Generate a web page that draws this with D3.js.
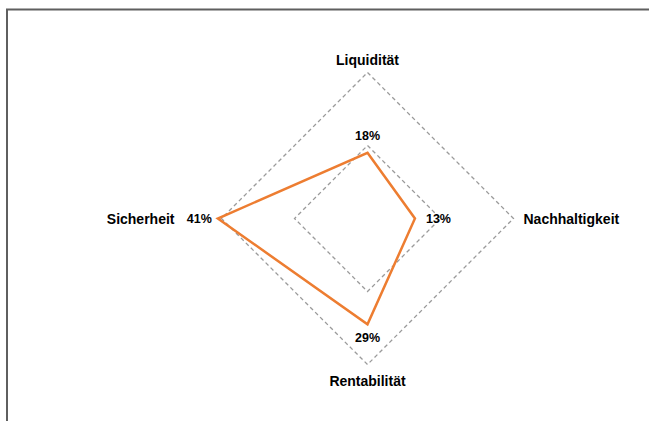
<!DOCTYPE html>
<html><head><meta charset="utf-8">
<script src="https://cdn.jsdelivr.net/npm/d3@7"></script>
<style>
html,body{margin:0;padding:0;background:#fff;}
svg{display:block;}
text{font-family:"Liberation Sans",Arial,sans-serif;font-weight:bold;fill:#000;}
</style></head>
<body>
<script>
const categories = ["Liquidität", "Nachhaltigkeit", "Rentabilität", "Sicherheit"];
const values = [0.18, 0.13, 0.29, 0.41];
const valueLabels = ["18%", "13%", "29%", "41%"];
const gridLevels = [0.2, 0.4];

const W = 649, H = 421;
const cx = 367.5, cy = 218.5, R = 146;

const svg = d3.select("body").append("svg").attr("width", W).attr("height", H);

// frame (left and top)
svg.append("path").attr("d", `M7,${H} V9.5 H${W}`)
  .attr("fill", "none").attr("stroke", "#5f5f5f").attr("stroke-width", 2);

const r = d3.scaleLinear().domain([0, 0.4]).range([0, R]);
const angle = d3.scalePoint().domain(categories).range([0, 2 * Math.PI * 3 / 4]);

const g = svg.append("g").attr("transform", `translate(${cx},${cy})`);

const radial = d3.lineRadial()
  .angle(d => angle(d.cat))
  .radius(d => r(d.v))
  .curve(d3.curveLinearClosed);

// grid diamonds
g.selectAll("path.grid").data(gridLevels).enter().append("path")
  .attr("class", "grid")
  .attr("d", lv => radial(categories.map(c => ({cat: c, v: lv}))))
  .attr("fill", "none").attr("stroke", "#9a9a9a").attr("stroke-width", 1.3)
  .attr("stroke-dasharray", "4,3");

// data polygon
const pts = categories.map((c, i) => ({cat: c, v: values[i], lab: valueLabels[i]}));
g.append("path").attr("d", radial(pts))
  .attr("fill", "none").attr("stroke", "#ED7D31").attr("stroke-width", 2.5)
  .attr("stroke-linejoin", "miter");

// category labels
const catOffsets = [
  {dx: 0, dy: -8, anchor: "middle"},
  {dx: 10, dy: 5, anchor: "start"},
  {dx: 0, dy: 21.5, anchor: "middle"},
  {dx: -47, dy: 5, anchor: "end"}
];
g.selectAll("text.cat").data(categories).enter().append("text")
  .attr("class", "cat")
  .attr("x", (c, i) => d3.pointRadial(angle(c), r(0.4))[0] + catOffsets[i].dx)
  .attr("y", (c, i) => d3.pointRadial(angle(c), r(0.4))[1] + catOffsets[i].dy)
  .attr("text-anchor", (c, i) => catOffsets[i].anchor)
  .style("font-size", "14px")
  .text(c => c);

// value labels
const valOffsets = [
  {dx: 0, dy: -13, anchor: "middle"},
  {dx: 11, dy: 4.5, anchor: "start"},
  {dx: 0, dy: 18, anchor: "middle"},
  {dx: -6, dy: 4.5, anchor: "end"}
];
g.selectAll("text.val").data(pts).enter().append("text")
  .attr("class", "val")
  .attr("x", (d, i) => d3.pointRadial(angle(d.cat), r(d.v))[0] + valOffsets[i].dx)
  .attr("y", (d, i) => d3.pointRadial(angle(d.cat), r(d.v))[1] + valOffsets[i].dy)
  .attr("text-anchor", (d, i) => valOffsets[i].anchor)
  .style("font-size", "12.5px")
  .text(d => d.lab);
</script>
</body></html>
